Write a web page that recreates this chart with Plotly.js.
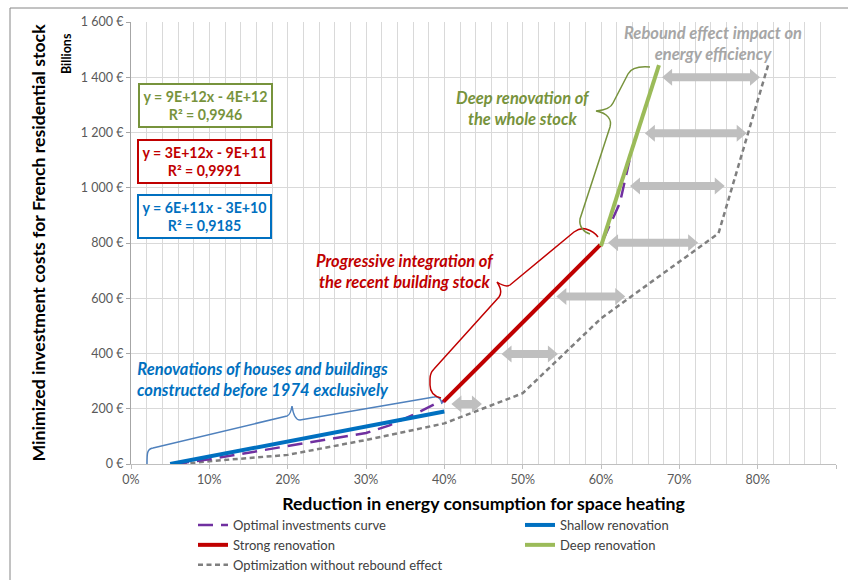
<!DOCTYPE html>
<html><head><meta charset="utf-8">
<script src="https://cdn.plot.ly/plotly-3.0.1.min.js"></script>
<style>html,body{margin:0;padding:0;background:#fff}#chart{width:848px;height:580px}</style>
</head><body><div id="chart"></div>
<script>
// ---- data (x = share of energy reduction, y = billions €) ----
const optimalX = [0.055, 0.10, 0.20, 0.30, 0.33, 0.365, 0.39, 0.40, 0.50, 0.60, 0.624, 0.638];
const optimalY = [0, 17, 65, 112, 140, 184, 220, 228, 510, 795, 944, 1120];
const shallowX = [0.05, 0.40];
const shallowY = [0, 190];
const strongX = [0.399, 0.599];
const strongY = [226, 793];
const deepX = [0.600, 0.674];
const deepY = [789, 1444];
const noReboundX = [0.065, 0.10, 0.20, 0.30, 0.40, 0.50, 0.60, 0.75, 0.814];
const noReboundY = [0, 10, 33, 87, 147, 256, 527, 835, 1450];
// rebound effect arrows (y level, from, to)
const arrowY  = [217, 398, 606, 801, 1006, 1197, 1400];
const arrowX0 = [0.409, 0.473, 0.543, 0.609, 0.637, 0.656, 0.678];
const arrowX1 = [0.448, 0.545, 0.631, 0.724, 0.758, 0.786, 0.803];
const yTickVals = [0, 200, 400, 600, 800, 1000, 1200, 1400, 1600];
const yTickText = ['0 €', '200 €', '400 €', '600 €', '800 €', '1 000 €', '1 200 €', '1 400 €', '1 600 €'];
const xTickVals = [0, 0.1, 0.2, 0.3, 0.4, 0.5, 0.6, 0.7, 0.8, 0.9];
const xTickText = ['0%', '10%', '20%', '30%', '40%', '50%', '60%', '70%', '80%', '90%'];

// ---- layout geometry ----
const W = 848, H = 580, L = 131, R = 836, T = 22, B = 464;
const XMAX = 0.9, YMAX = 1600;
const dx = px => (px - L) / (R - L) * XMAX;
const dy = py => (B - py) / (B - T) * YMAX;
const pxX = px => (px - L) / (R - L);
const pxY = py => (B - py) / (B - T);
const xPerPx = XMAX / (R - L), yPerPx = YMAX / (B - T);

function pathFromPx(cmds) {
  return cmds.map(c => {
    const pts = [];
    for (let i = 1; i < c.length; i += 2) pts.push(dx(c[i]).toFixed(5) + ',' + dy(c[i + 1]).toFixed(3));
    return c[0] + pts.join(' ');
  }).join(' ');
}
function arrowPath(x0, x1, y) {
  const hl = 10 * xPerPx, sh = 4 * yPerPx, hh = 8.5 * yPerPx;
  const p = [[x0, y], [x0 + hl, y + hh], [x0 + hl, y + sh], [x1 - hl, y + sh], [x1 - hl, y + hh], [x1, y],
             [x1 - hl, y - hh], [x1 - hl, y - sh], [x0 + hl, y - sh], [x0 + hl, y - hh]];
  return 'M' + p.map(q => q[0].toFixed(5) + ',' + q[1].toFixed(2)).join(' L') + ' Z';
}

const blueBrace = [['M',147,464],['C',147,453,147,449,153,448],['L',287,416],['C',290,415,291,412,292,406],
  ['C',293,413,295,420,300,420],['L',434,397],['C',439,396,441,399,442,404]];
const redBrace = [['M',441,398],['C',433,396,430,391,430,385],['L',430,379],['C',430,375,431,372,434,369],
  ['L',499,297],['C',502,293,501,288,497,282],['C',503,286,507,287,510,285],['L',574,232],
  ['C',578,229,582,228,586,229],['C',592,231,596,234,598,237]];
const greenBrace = [['M',590,234],['C',583,232,579,226,580,219],['L',610,127],['C',612,120,608,113,596,111],
  ['C',606,110,611,108,613,103],['L',628,74],['C',631,68,638,66,650,67]];

const FONT = 'Lato, "Open Sans", sans-serif';

const traces = [
  {x: noReboundX, y: noReboundY, name: 'Optimization without rebound effect', mode: 'lines', legendrank: 5,
   line: {color: '#7F7F7F', width: 2.5, dash: '5px,3.5px'}},
  {x: optimalX, y: optimalY, name: 'Optimal investments curve', mode: 'lines', legendrank: 1,
   line: {color: '#7030A0', width: 2.5, dash: '15px,8px'}},
  {x: shallowX, y: shallowY, name: 'Shallow renovation', mode: 'lines', legendrank: 2,
   line: {color: '#0070C0', width: 4}},
  {x: strongX, y: strongY, name: 'Strong renovation', mode: 'lines', legendrank: 3,
   line: {color: '#C00000', width: 4}},
  {x: deepX, y: deepY, name: 'Deep renovation', mode: 'lines', legendrank: 4,
   line: {color: '#9BBB59', width: 4}}
];

const shapes = [];
shapes.push({type: 'rect', xref: 'paper', yref: 'paper', x0: pxX(10), x1: pxX(870), y0: pxY(8), y1: pxY(600),
  line: {color: '#868686', width: 1}, fillcolor: 'rgba(0,0,0,0)', layer: 'below'});
for (let i = 0; i < arrowY.length; i++) {
  shapes.push({type: 'path', xref: 'x', yref: 'y', path: arrowPath(arrowX0[i], arrowX1[i], arrowY[i]),
    fillcolor: '#BFBFBF', line: {width: 0}, layer: 'above'});
}
shapes.push({type: 'path', xref: 'x', yref: 'y', path: pathFromPx(blueBrace), line: {color: '#4F81BD', width: 1.5}, layer: 'above'});
shapes.push({type: 'path', xref: 'x', yref: 'y', path: pathFromPx(redBrace), line: {color: '#C00000', width: 1.5}, layer: 'above'});
shapes.push({type: 'path', xref: 'x', yref: 'y', path: pathFromPx(greenBrace), line: {color: '#77933C', width: 1.5}, layer: 'above'});

function note(text, cx, cy, color, size) {
  return {text: '<b><i>' + text + '</i></b>', xref: 'paper', yref: 'paper', x: pxX(cx), y: pxY(cy),
    xanchor: 'center', yanchor: 'middle', showarrow: false, font: {family: FONT, size: size || 16.5, color: color}};
}
function eqBox(l1, l2, cx, cy, color) {
  return {text: '<b>' + l1 + '<br>' + l2 + '</b>', xref: 'paper', yref: 'paper', x: pxX(cx), y: pxY(cy),
    xanchor: 'center', yanchor: 'middle', showarrow: false, width: 131, height: 41, borderwidth: 2, borderpad: 0,
    bordercolor: color, bgcolor: '#FFFFFF', font: {family: FONT, size: 14.2, color: color}};
}
const annotations = [
  note('Rebound effect impact on<br>energy efficiency', 713, 43, '#A6A6A6'),
  note('Deep renovation of<br>the whole stock', 523, 109, '#77933C'),
  note('Progressive integration of<br>the recent building stock', 405, 271.5, '#C00000'),
  note('Renovations of houses and buildings<br>constructed before 1974 exclusively', 262.5, 379.5, '#0070C0'),
  eqBox('y = 9E+12x - 4E+12', 'R² = 0,9946', 205.8, 105.8, '#77933C'),
  eqBox('y = 3E+12x - 9E+11', 'R² = 0,9991', 204.5, 161.2, '#C00000'),
  eqBox('y = 6E+11x - 3E+10', 'R² = 0,9185', 204.5, 216.2, '#0070C0'),
  {text: '<b>Billions</b>', xref: 'paper', yref: 'paper', x: pxX(67), y: pxY(54), xanchor: 'center', yanchor: 'middle',
   textangle: -90, showarrow: false, font: {family: FONT, size: 12.5, color: '#000000'}}
];

const layout = {
  width: W, height: H,
  margin: {l: L, r: W - R, t: T, b: H - B, autoexpand: false},
  paper_bgcolor: '#FFFFFF', plot_bgcolor: '#FFFFFF',
  font: {family: FONT, size: 12, color: '#595959'},
  showlegend: true,
  legend: {orientation: 'h', x: pxX(193), xanchor: 'left', y: pxY(510), yanchor: 'top',
    entrywidth: 282, entrywidthmode: 'pixels', traceorder: 'normal',
    font: {family: FONT, size: 13, color: '#404040'}, bgcolor: 'rgba(0,0,0,0)'},
  xaxis: {range: [0, XMAX], tickvals: xTickVals, ticktext: xTickText, ticks: 'outside', ticklen: 4,
    tickcolor: '#BFBFBF', showline: true, linecolor: '#BFBFBF', linewidth: 1, showgrid: true, gridcolor: '#D9D9D9',
    zeroline: false, minor: {dtick: 0.02, showgrid: true, gridcolor: '#D9D9D9', ticks: ''},
    tickfont: {family: FONT, size: 12.5, color: '#595959'},
    title: {text: 'Reduction in energy consumption for space heating', standoff: 11,
      font: {family: FONT, size: 17.7, color: '#000000', weight: 'bold'}}},
  yaxis: {range: [0, YMAX], tickvals: yTickVals, ticktext: yTickText, ticks: 'outside', ticklen: 4,
    tickcolor: '#A6A6A6', showline: true, linecolor: '#A6A6A6', linewidth: 1, showgrid: true, gridcolor: '#D9D9D9',
    zeroline: false, tickfont: {family: FONT, size: 12.5, color: '#595959'},
    title: {text: 'Minimized investment costs for French residential stock', standoff: 30,
      font: {family: FONT, size: 17.7, color: '#000000', weight: 'bold'}}},
  shapes: shapes,
  annotations: annotations
};

Plotly.newPlot('chart', traces, layout, {displayModeBar: false, staticPlot: true});
</script></body></html>
